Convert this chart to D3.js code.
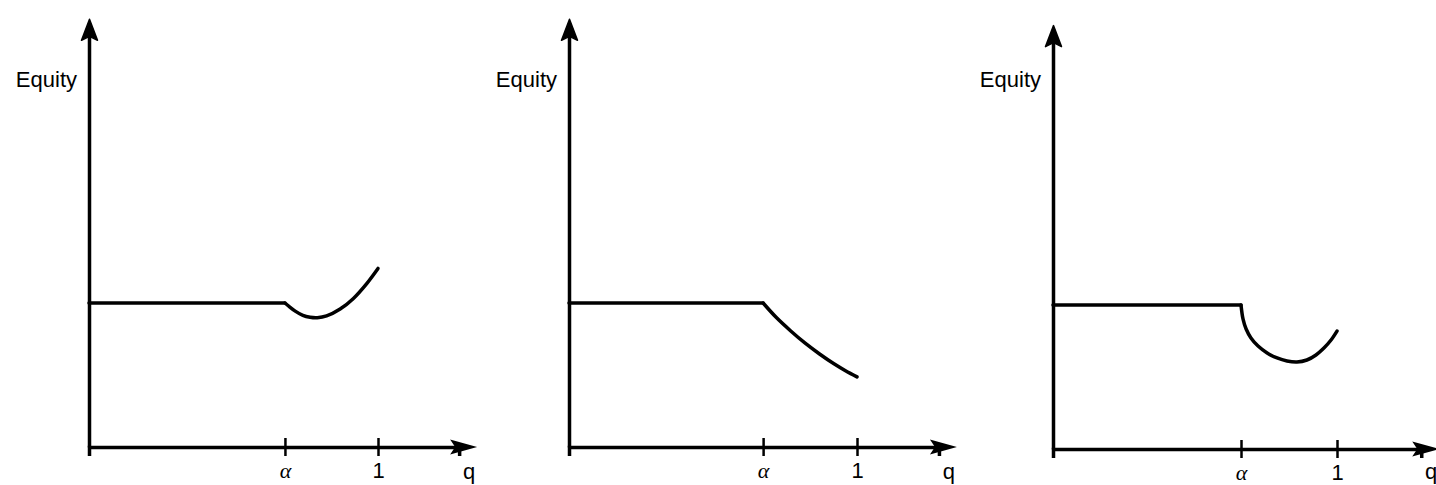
<!DOCTYPE html>
<html>
<head>
<meta charset="utf-8">
<script src="https://cdn.jsdelivr.net/npm/d3@7"></script>
<style>
  body { margin: 0; background: #fff; }
  svg { display: block; }
</style>
</head>
<body>
<script>
'use strict';

// values (q on the x axis, equity on the y axis, flat level = 1)
const yLabel = "Equity";
const xLabel = "q";
const tickLabels = ["α", "1"];
const alphaQ = [0.678, 0.674, 0.662];   // where the alpha tick sits in each panel
const flatEquity = 1.0;
const axisTopEquity = [2.97, 2.97, 2.94];
const axisEndQ = [1.343, 1.347, 1.36];

// curve after alpha, one pair of arrays per panel
const curveQ1 = [0.678, 0.695, 0.715, 0.740, 0.765, 0.790, 0.822, 0.869, 0.914, 0.961, 1.0];
const curveE1 = [1.0, 0.972, 0.942, 0.914, 0.901, 0.898, 0.910, 0.958, 1.030, 1.135, 1.24];
const curveQ2 = [0.674, 0.720, 0.770, 0.820, 0.870, 0.920, 0.960, 1.0];
const curveE2 = [1.0, 0.899, 0.806, 0.721, 0.646, 0.578, 0.530, 0.487];
const curveQ3 = [0.662, 0.669, 0.680, 0.697, 0.722, 0.754, 0.789, 0.824, 0.859, 0.894, 0.926, 0.954, 0.979, 1.0];
const curveE3 = [1.0, 0.903, 0.833, 0.771, 0.715, 0.667, 0.632, 0.611, 0.604, 0.618, 0.653, 0.701, 0.757, 0.819];

const curves = [[curveQ1, curveE1], [curveQ2, curveE2], [curveQ3, curveE3]];

// panel placement (pixels)
const panels = [
  { x0: 89, xOne: 378, yBase: 447 },
  { x0: 569, xOne: 857, yBase: 447 },
  { x0: 1053, xOne: 1337, yBase: 449 }
];

const svg = d3.select('body').append('svg')
  .attr('width', 1436)
  .attr('height', 485);

svg.append('rect').attr('width', 1436).attr('height', 485).attr('fill', '#fff');

panels.forEach((p, i) => drawPanel(p, i));

function drawPanel(p, i) {
  let g = svg.append('g');

  // q scale: 0 at the y axis, 1 at the "1" tick
  let x = d3.scaleLinear().domain([0, 1]).range([p.x0, p.xOne]);
  // equity scale: 144px per unit
  let y = d3.scaleLinear().domain([0, 3]).range([p.yBase, p.yBase - 432]);

  let qEnd = axisEndQ[i];
  let eTop = axisTopEquity[i];
  let tipX = x(qEnd), tipY = y(0);

  // x axis, shaft stops short of the arrow tip (same mapping as x)
  let qShaft = x.invert(tipX - 18);
  let xAxisScale = x.copy().domain([0, qShaft]).range([p.x0, x(qShaft)]);
  let xAxis = d3.axisBottom(xAxisScale)
    .tickValues([alphaQ[i], 1])
    .tickFormat((d, k) => tickLabels[k])
    .tickSizeOuter(0)
    .tickSize(9);
  let xg = g.append('g')
    .attr('transform', `translate(0, ${p.yBase})`)
    .call(xAxis);
  xg.select('.domain').attr('stroke', '#000').attr('stroke-width', 3.5);
  xg.selectAll('.tick line')
    .attr('y1', -9).attr('y2', 9)
    .attr('stroke', '#000').attr('stroke-width', 2.5);
  xg.selectAll('.tick text')
    .attr('y', 31).attr('dy', 0)
    .attr('fill', '#000')
    .style('font-size', '22px')
    .style('font-family', (d, k) => k === 0 ? '"Liberation Serif", serif' : '"Liberation Sans", Arial, sans-serif')
    .style('font-style', (d, k) => k === 0 ? 'italic' : 'normal');

  // x arrow head
  g.append('path')
    .attr('d', `M${tipX},${tipY} L${tipX - 27},${tipY - 7.5} L${tipX - 22},${tipY} L${tipX - 27},${tipY + 7.5} Z`)
    .attr('fill', '#000');

  // y axis, no ticks
  let yAxisScale = y.copy().domain([0, eTop]).range([y(0), y(eTop) + 16]);
  let yg = g.append('g')
    .attr('transform', `translate(${p.x0}, 0)`)
    .call(d3.axisLeft(yAxisScale).tickValues([]).tickSizeOuter(0));
  yg.select('.domain').attr('stroke', '#000').attr('stroke-width', 3.5);

  // y arrow head
  let ax = p.x0 + 0.5, ay = y(eTop);
  g.append('path')
    .attr('d', `M${ax},${ay} L${ax + 8},${ay + 21} L${ax},${ay + 17} L${ax - 8},${ay + 21} Z`)
    .attr('fill', '#000')
    .attr('stroke', '#000')
    .attr('stroke-width', 1.5)
    .attr('stroke-linejoin', 'round');

  // axis labels
  g.append('text')
    .attr('x', p.x0 - 12)
    .attr('y', 87)
    .attr('text-anchor', 'end')
    .style('font-family', '"Liberation Sans", Arial, sans-serif')
    .style('font-size', '22px')
    .text(yLabel);

  g.append('text')
    .attr('x', tipX - 8)
    .attr('y', 479)
    .attr('text-anchor', 'middle')
    .style('font-family', '"Liberation Sans", Arial, sans-serif')
    .style('font-size', '22px')
    .text(xLabel);

  // flat part from q = 0 to alpha
  g.append('path')
    .datum([[0, flatEquity], [alphaQ[i], flatEquity]])
    .attr('d', d3.line().x(d => x(d[0])).y(d => y(d[1])))
    .attr('fill', 'none')
    .attr('stroke', '#000')
    .attr('stroke-width', 3.5)
    .attr('stroke-linecap', 'round');

  // curve after alpha
  let pts = curves[i][0].map((q, k) => [q, curves[i][1][k]]);
  g.append('path')
    .datum(pts)
    .attr('d', d3.line().x(d => x(d[0])).y(d => y(d[1])).curve(d3.curveCatmullRom.alpha(0.5)))
    .attr('fill', 'none')
    .attr('stroke', '#000')
    .attr('stroke-width', 3.5)
    .attr('stroke-linecap', 'round');
}
</script>
</body>
</html>
